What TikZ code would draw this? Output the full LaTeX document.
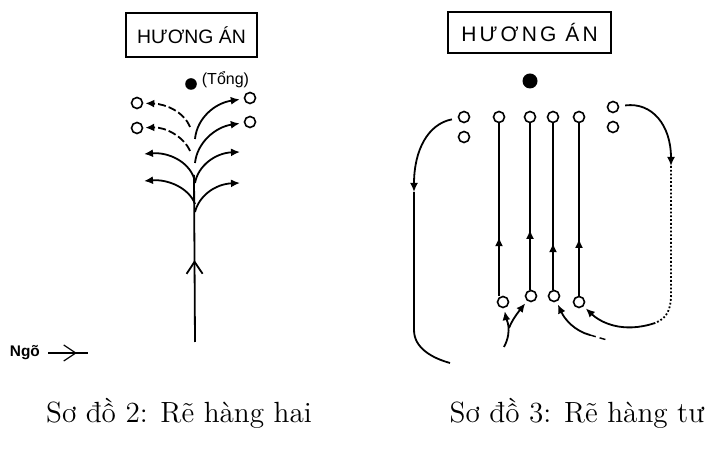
\documentclass[tikz,border=0pt]{standalone}
\usepackage{fontspec}
\newfontfamily\sansvn{Liberation Sans}
\newfontfamily\sansvnwide[LetterSpace=15]{Liberation Sans}
\usetikzlibrary{arrows.meta,decorations.markings}

\tikzset{
  hbox/.style={draw, line width=0.7pt, inner sep=0pt},
  ring/.style={circle, draw, line width=0.8pt, minimum size=5.5pt, inner sep=0pt},
  blob/.style={circle, fill, inner sep=0pt},
  arr/.style={-{Latex[length=4.5pt,width=4pt]}},
  midtip/.style={postaction={decorate}, decoration={markings,
      mark=at position #1 with {\arrow{Latex[length=4.5pt,width=4pt]}}}},
  midV/.style={postaction={decorate}, decoration={markings,
      mark=at position #1 with {\arrow{Straight Barb[length=6pt,width=8pt]}}}},
  capt/.style={font=\fontsize{14.6}{17}\selectfont}
}

\begin{document}
\begin{tikzpicture}[x=0.5pt, y=-0.5pt, line width=0.9pt]
        \useasboundingbox (0,0) rectangle (717,453);
        % So do 2
        \node[hbox, minimum width=65.5pt, minimum height=22pt,
          font=\sansvn\fontsize{9.7}{11}\selectfont] (hb2) at (191.5,35) {HƯƠNG ÁN};
        \node[blob, minimum size=5.8pt] (tong) at (191,84) {};
        \node[anchor=west, inner sep=0pt, font=\sansvn\fontsize{8}{9}\selectfont]
          (tonglbl) at (201,80) {(Tổng)};
        \node[ring] (ol1) at (137,103) {};
        \node[ring] (ol2) at (137,128) {};
        \node[ring] (or1) at (250,98) {};
        \node[ring] (or2) at (250,122) {};
        \coordinate (root) at (195,342);
        \coordinate (top) at (194,175);
        \draw[midV=0.49] (root) -- (top);
        \coordinate (sl1) at (190,127);
        \coordinate (sl2) at (190,151);
        \coordinate (sl3) at (194,178);
        \coordinate (sl4) at (195,204);
        \coordinate (tl3) at (144,154);
        \coordinate (tl4) at (144,181);
        \draw[arr, dash pattern=on 4pt off 1.5pt, shorten >=1pt]
          (sl1) .. controls (184,112) and (166,104) .. (ol1);
        \draw[arr, dash pattern=on 4pt off 1.5pt, shorten >=1pt]
          (sl2) .. controls (184,137) and (166,127) .. (ol2);
        \draw[arr] (sl3) .. controls (188,161) and (168,152) .. (tl3);
        \draw[arr] (sl4) .. controls (189,188) and (168,179) .. (tl4);
        \coordinate (sr1) at (195,139);
        \coordinate (sr2) at (195,163);
        \coordinate (sr3) at (195,183);
        \coordinate (sr4) at (195,212);
        \coordinate (tr3) at (240,152);
        \coordinate (tr4) at (240,183);
        \draw[arr, shorten >=2pt] (sr1) .. controls (197,118) and (215,103) .. (or1);
        \draw[arr, shorten >=2pt] (sr2) .. controls (197,143) and (215,127) .. (or2);
        \draw[arr] (sr3) .. controls (198,166) and (215,153) .. (tr3);
        \draw[arr] (sr4) .. controls (199,196) and (215,184) .. (tr4);
        \node[anchor=west, inner sep=0pt, font=\sansvn\bfseries\fontsize{7.7}{9}\selectfont]
          (ngo) at (9,353) {Ngõ};
        \coordinate (ngoA) at (48,353);
        \coordinate (ngoB) at (88,353);
        \draw[line width=0.6pt, midV=0.72] (ngoA) -- (ngoB);
        \node[capt] (cap2) at (179,413) {Sơ đồ 2: Rẽ hàng hai};
        % So do 3
        \node[hbox, minimum width=81.5pt, minimum height=20.5pt,
          font=\sansvnwide\fontsize{10.5}{12}\selectfont] (hb3) at (529.5,32.5) {HƯƠNG ÁN};
        \node[blob, minimum size=7.5pt] (tong3) at (530,81) {};
        \node[ring] (t1) at (464,117) {};
        \node[ring] (t2) at (499,117) {};
        \node[ring] (t3) at (530,117) {};
        \node[ring] (t4) at (553,117) {};
        \node[ring] (t5) at (579,117) {};
        \node[ring] (t6) at (464,137) {};
        \node[ring] (t7) at (613,107) {};
        \node[ring] (t8) at (613,127) {};
        \node[ring] (b1) at (503,302) {};
        \node[ring] (b2) at (531,296) {};
        \node[ring] (b3) at (554,296) {};
        \node[ring] (b4) at (579,302) {};
        \draw[midtip=0.34] (t2 |- b1.north) -- (t2.south);
        \draw[midtip=0.36] (t3 |- b2.north) -- (t3.south);
        \draw[midtip=0.28] (t4 |- b3.north) -- (t4.south);
        \draw[midtip=0.33] (t5 |- b4.north) -- (t5.south);
        % outer left
        \coordinate (lturn) at (414,192);
        \coordinate (llow) at (414,330);
        \coordinate (lend) at (450,363);
        \draw[arr, shorten <=3pt] (t1) .. controls (428,124) and (414,150) .. (lturn);
        \draw (lturn) -- (llow) .. controls (414,348) and (432,358) .. (lend);
        % outer right
        \coordinate (rturn) at (671,166);
        \coordinate (rlow) at (671,295);
        \coordinate (rbend) at (655,323);
        \draw[arr, shorten <=3pt] (t7) .. controls (652,102) and (671,125) .. (rturn);
        \draw[densely dotted] (rturn) -- (rlow) .. controls (671,312) and (665,319) .. (rbend);
        \draw[arr, shorten >=1.5pt] (rbend) .. controls (622,334) and (600,322) .. (b4);
        % bottom arrows
        \coordinate (yfoot) at (504,347);
        \coordinate (yfork) at (509,328);
        \draw[arr, shorten >=1.5pt] (yfoot) .. controls (513,330) and (506,318) .. (b1);
        \draw[arr, shorten >=1.5pt] (yfork) .. controls (513,318) and (520,310) .. (b2);
        \coordinate (b3tail) at (590,335);
        \coordinate (b3end) at (607,340);
        \draw[arr, shorten >=1.5pt] (b3tail) .. controls (575,331) and (565,320) .. (b3);
        \draw[dash pattern=on 3pt off 2pt, line width=0.7pt] (b3tail) -- (b3end);
        \node[capt] (cap3) at (577,413) {Sơ đồ 3: Rẽ hàng tư};
      \end{tikzpicture}
\end{document}
